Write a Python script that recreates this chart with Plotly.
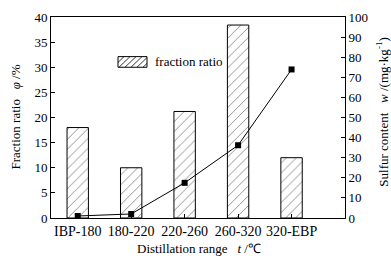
import plotly.graph_objects as go

categories = ["IBP-180", "180-220", "220-260", "260-320", "320-EBP"]
fraction_ratio = [18.0, 10.0, 21.2, 38.4, 12.0]
sulfur_content = [1.0, 2.0, 17.5, 36.2, 73.9]
left_ticks = [0, 5, 10, 15, 20, 25, 30, 35, 40]
right_ticks = [0, 10, 20, 30, 40, 50, 60, 70, 80, 90, 100]

W, H = 391, 260
L, R, T, B = 51, 46, 10, 42
FONT = "Liberation Serif"

fig = go.Figure()
fig.add_trace(go.Bar(
    x=list(range(len(categories))), y=fraction_ratio, width=0.4,
    marker=dict(color="white", line=dict(color="black", width=1),
                pattern=dict(shape="/", fgcolor="black", bgcolor="white", size=7, solidity=0.12)),
    showlegend=False, yaxis="y"))
fig.add_trace(go.Scatter(
    x=list(range(len(categories))), y=sulfur_content, mode="lines+markers",
    line=dict(color="black", width=1),
    marker=dict(symbol="square", size=6, color="black"),
    showlegend=False, yaxis="y2"))

pw, ph = W - L - R, H - T - B
def px(xp): return (xp - L) / pw
def py(yp): return (T + ph - yp) / ph

# legend patch (hatched rectangle)
x0, x1, y0, y1 = 118, 147, 51, 62
fig.add_shape(type="rect", xref="paper", yref="paper",
              x0=px(x0), x1=px(x1), y0=py(y1), y1=py(y0),
              line=dict(color="black", width=1), fillcolor="white")
step = 6
h = y1 - y0
s = x0 - h
while s < x1:
    ax, ay, bx, by = s, y1, s + h, y0
    if ax < x0:
        ay = y1 - (x0 - ax); ax = x0
    if bx > x1:
        by = y0 + (bx - x1); bx = x1
    if bx > ax:
        fig.add_shape(type="path", xref="paper", yref="paper",
                      path=f"M{px(ax)},{py(ay)} L{px(bx)},{py(by)}",
                      line=dict(color="black", width=0.8))
    s += step

tfont = dict(family=FONT, size=13, color="black")
fig.add_annotation(xref="paper", yref="paper", x=px(153), y=py(56.5), xanchor="left",
                   yanchor="middle", showarrow=False, text="fraction ratio", font=tfont)
fig.add_annotation(xref="paper", yref="paper", x=px(15), y=py(114), xanchor="center",
                   yanchor="middle", showarrow=False, textangle=-90,
                   text="Fraction ratio   <i>φ</i> /%", font=tfont)
fig.add_annotation(xref="paper", yref="paper", x=px(382), y=py(108), xanchor="center",
                   yanchor="middle", showarrow=False, textangle=-90,
                   text="Sulfur content   <i>w</i> /(mg·kg<sup>-1</sup>)", font=tfont)
fig.add_annotation(xref="paper", yref="paper", x=px(199), y=py(250), xanchor="center",
                   yanchor="middle", showarrow=False,
                   text="Distillation range   <i>t</i> /℃", font=tfont)

axis_common = dict(showline=True, linecolor="black", linewidth=1, ticks="inside",
                   ticklen=4, tickcolor="black", showgrid=False, zeroline=False,
                   tickfont=dict(family=FONT, size=13, color="black"))
fig.update_layout(
    width=W, height=H, margin=dict(l=L, r=R, t=T, b=B),
    paper_bgcolor="white", plot_bgcolor="white",
    xaxis=dict(axis_common, range=[-0.5, 5.0], tickvals=list(range(len(categories))),
               ticktext=categories, mirror=True,
               tickfont=dict(family=FONT, size=14, color="black")),
    yaxis=dict(axis_common, range=[0, 40], tickvals=left_ticks),
    yaxis2=dict(axis_common, range=[0, 100], tickvals=right_ticks, overlaying="y",
                side="right"),
    bargap=0.6,
)
fig.write_html("out.html", config={"displayModeBar": False},
               post_script="document.body.style.margin='0';document.body.style.padding='0';")
